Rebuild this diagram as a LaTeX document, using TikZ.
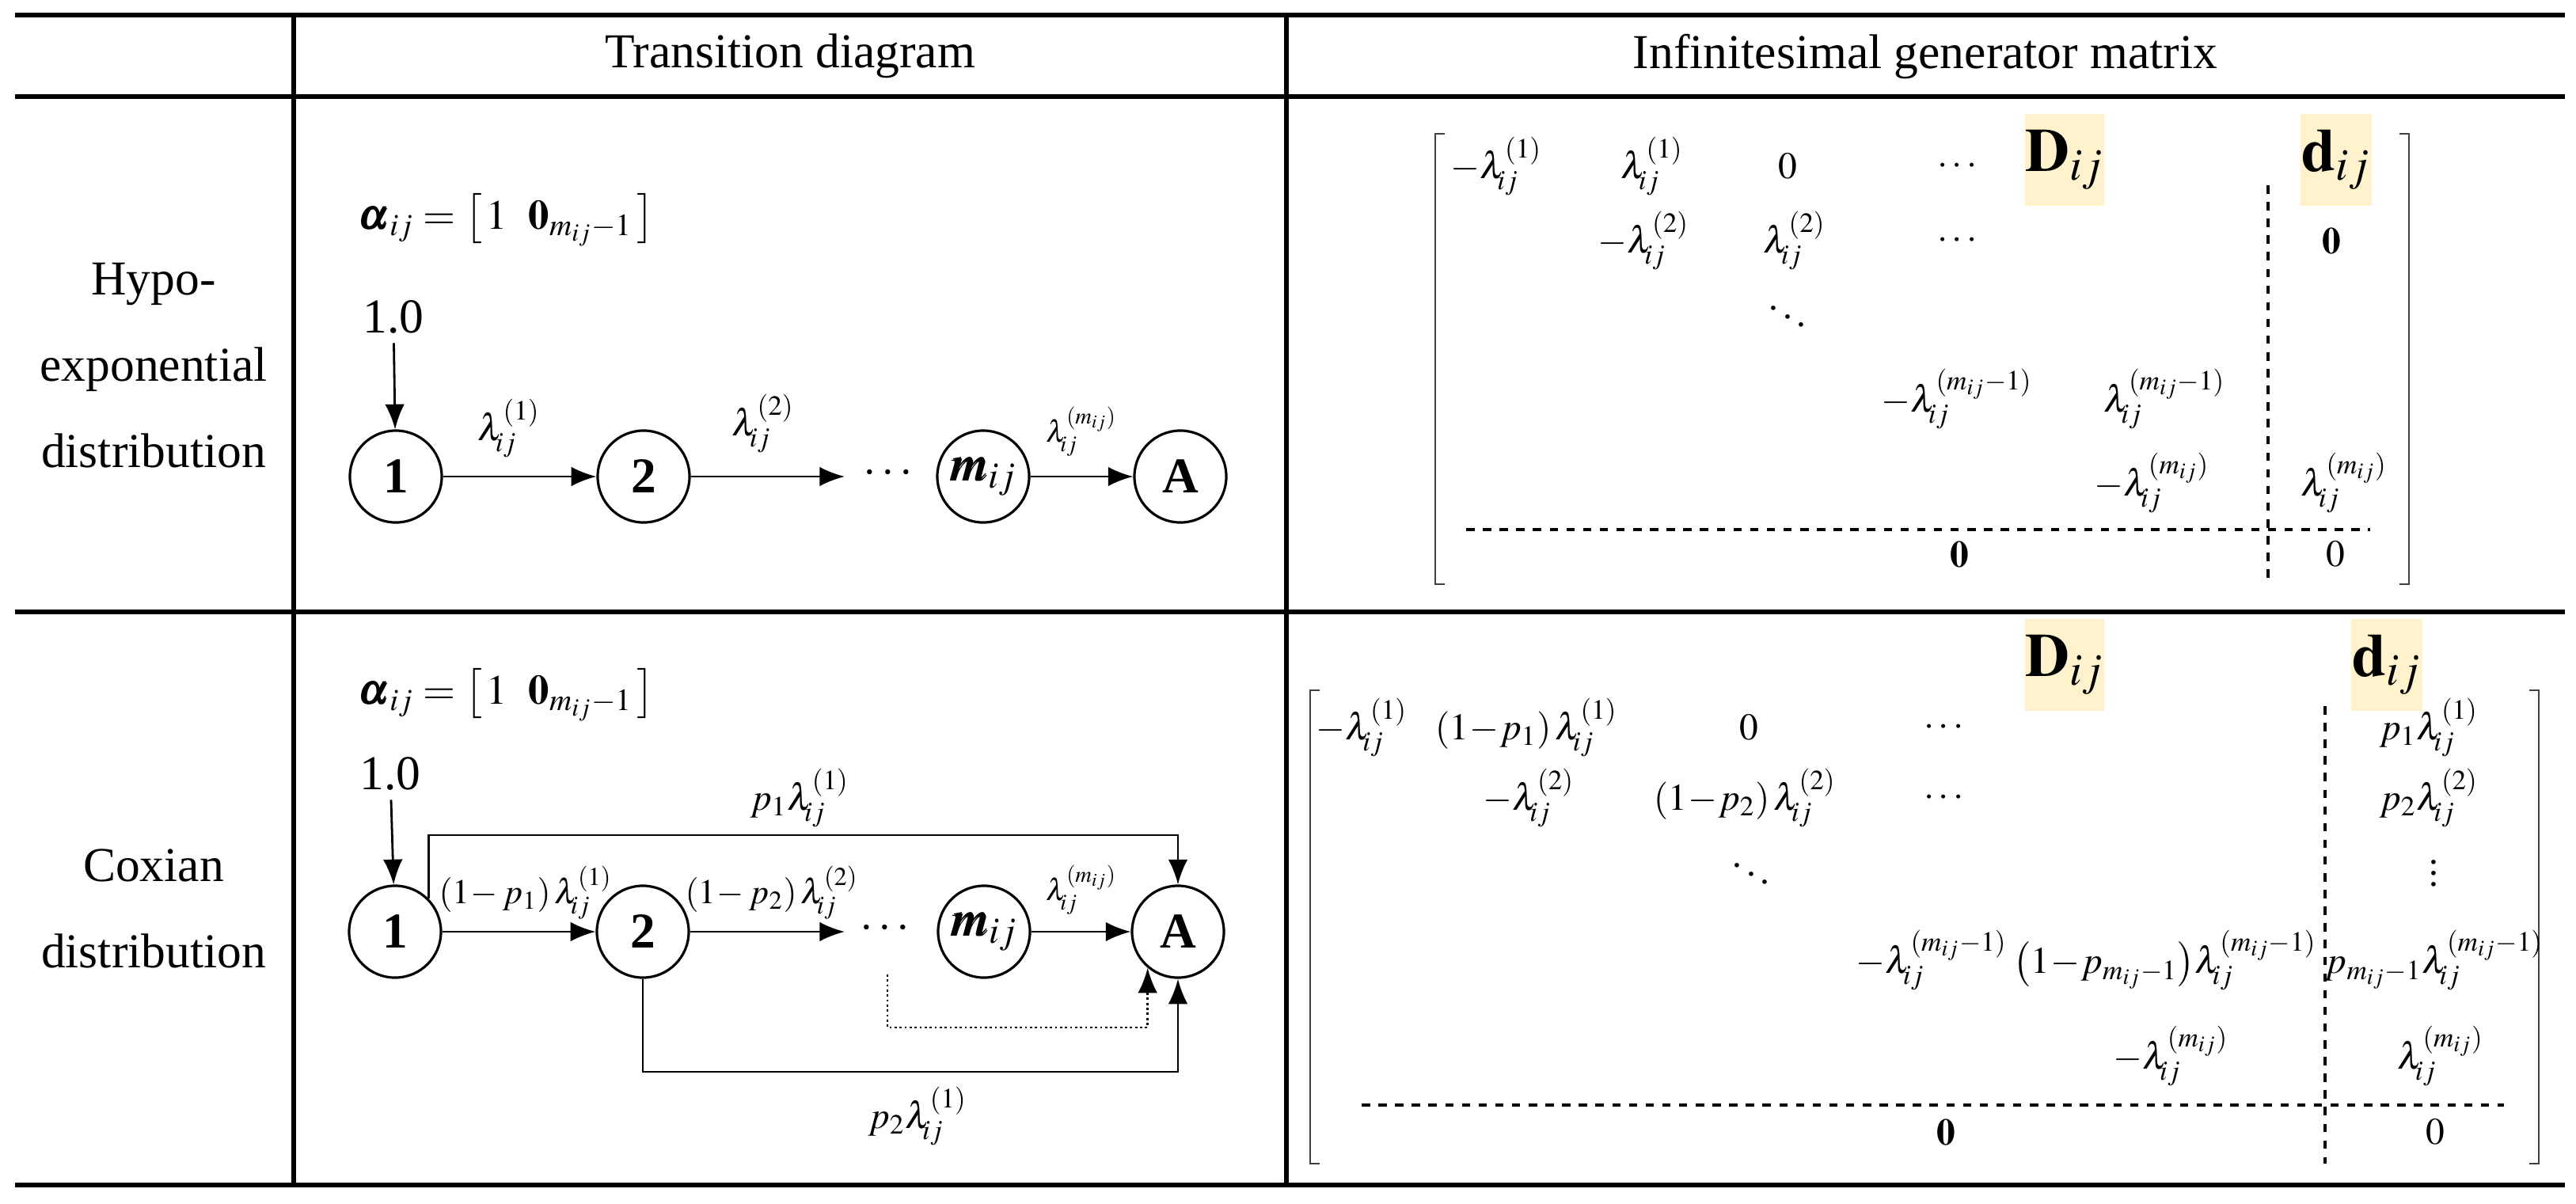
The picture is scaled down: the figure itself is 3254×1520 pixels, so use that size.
\documentclass[tikz,border=0pt]{standalone}
\usepackage{amsmath}
\usepackage{mathptmx}
\usepackage{bm}
\usepackage{fontspec}
\setmainfont{Liberation Serif}
\usetikzlibrary{arrows.meta}
\definecolor{hl}{HTML}{FFF2CC}
\newcommand{\lm}[1]{\lambda_{\!ij}^{#1}}
\tikzset{
 tbl/.style={line width=1.7pt},
 st/.style={draw,circle,line width=0.9pt,minimum size=1.16cm,inner sep=0pt,font=\fontsize{18}{20}\selectfont\bfseries},
 ar/.style={line width=0.8pt,-{Latex[length=9pt,width=7pt]}},
 lab/.style={font=\fontsize{13.5}{16}\selectfont},
 slab/.style={font=\fontsize{11}{13}\selectfont},
 txt/.style={font=\fontsize{17.5}{21}\selectfont,align=center},
 me/.style={font=\fontsize{13.5}{16}\selectfont,inner sep=0pt},
 hbox/.style={fill=hl,inner sep=0pt,minimum width=1.0cm,minimum height=1.15cm,font=\fontsize{22}{26}\selectfont},
 brk/.style={line width=0.7pt,draw=black!75},
 dsh/.style={line width=0.9pt,dashed}
}
\begin{document}
\begin{tikzpicture}[x=0.01cm,y=-0.01cm]
\useasboundingbox (0,0) rectangle (3254,1520);
% table
\draw[tbl] (19,19) -- (3240,19);
\draw[tbl] (19,122) -- (3240,122);
\draw[tbl] (19,773) -- (3240,773);
\draw[tbl] (19,1497) -- (3240,1497);
\draw[tbl] (371,19) -- (371,1497);
\draw[tbl] (1625,19) -- (1625,1497);
\node[txt] (h1) at (998,71) {Transition diagram};
\node[txt] (h2) at (2432,71) {Infinitesimal generator matrix};
\node[txt] (r1) at (194,462) {Hypo-\\[0.35cm] exponential\\[0.35cm] distribution};
\node[txt] (r2) at (194,1148) {Coxian\\[0.35cm] distribution};

% ---------- top diagram
\node[lab,anchor=west,font=\fontsize{15}{18}\selectfont] (al1) at (440,278) {$\bm{\alpha}_{ij}=\left[\,1\ \ \mathbf{0}_{m_{ij}-1}\,\right]$};
\node[txt] (one1) at (497,400) {1.0};
\node[st] (a1) at (500,602) {1};
\node[st] (a2) at (813,602) {2};
\node[font=\fontsize{17}{20}\selectfont\bfseries] (ad) at (1125,598) {$\cdots$};
\node[st] (am) at (1242,602) {$\bm{m_{ij}}$};
\node[st] (aA) at (1491,602) {A};
\coordinate (ae) at (1067,602);
\draw[ar] (one1) -- (a1);
\draw[ar] (a1) -- (a2);
\draw[ar] (a2) -- (ae);
\draw[ar] (am) -- (aA);
\node[lab] (la1) at (643,541) {$\lm{(1)}$};
\node[lab] (la2) at (964,535) {$\lm{(2)}$};
\node[slab] (la3) at (1366,545) {$\lm{(m_{ij})}$};

% ---------- bottom diagram
\node[lab,anchor=west,font=\fontsize{15}{18}\selectfont] (al2) at (440,878) {$\bm{\alpha}_{ij}=\left[\,1\ \ \mathbf{0}_{m_{ij}-1}\,\right]$};
\node[txt] (one2) at (493,977) {1.0};
\node[st] (b1) at (499,1177) {1};
\node[st] (b2) at (812,1177) {2};
\node[font=\fontsize{17}{20}\selectfont\bfseries] (bd) at (1121,1173) {$\cdots$};
\node[st] (bm) at (1243,1177) {$\bm{m_{ij}}$};
\node[st] (bA) at (1488,1177) {A};
\coordinate (be) at (1067,1177);
\coordinate (bdt) at (1121,1231);
\draw[ar] (one2) -- (b1);
\draw[ar] (b1) -- (b2);
\draw[ar] (b2) -- (be);
\draw[ar] (bm) -- (bA);
\draw[ar] (b1.45) |- (1300,1055) -| (bA.north);
\draw[ar] (b2.south) |- (1300,1354) -| (bA.south);
\draw[ar,densely dotted] (bdt) |- (1300,1298) -| (bA.-130);
\node[lab] (lb0) at (1010,1008) {$p_1\lm{(1)}$};
\node[lab,font=\fontsize{12.5}{15}\selectfont] (lb1) at (664,1128) {$\left(1\!-p_1\right)\lm{(1)}$};
\node[lab,font=\fontsize{12.5}{15}\selectfont] (lb2) at (975,1128) {$\left(1\!-p_2\right)\lm{(2)}$};
\node[slab] (lb3) at (1366,1124) {$\lm{(m_{ij})}$};
\node[lab] (lb4) at (1159,1410) {$p_2\lm{(1)}$};

% ---------- top matrix
\draw[brk] (1825,169) -- (1813,169) -- (1813,738) -- (1825,738);
\draw[brk] (3031,169) -- (3043,169) -- (3043,738) -- (3031,738);
\node[hbox] (D1) at (2608,202) {$\mathbf{D}_{ij}$};
\node[hbox,minimum width=0.9cm] (d1) at (2951,202) {$\mathbf{d}_{ij}$};
\node[me] at (1890,210) {$-\lm{(1)}$};
\node[me] at (2087,210) {$\lm{(1)}$};
\node[me] at (2258,210) {$0$};
\node[me] at (2475,210) {$\cdots$};
\node[me] at (2076,304) {$-\lm{(2)}$};
\node[me] at (2267,304) {$\lm{(2)}$};
\node[me] at (2475,304) {$\cdots$};
\node[me] at (2945,304) {$\mathbf{0}$};
\node[me] at (2258,389) {$\ddots$};
\node[me] at (2472,504) {$-\lm{(m_{ij}-1)}$};
\node[me] at (2734,504) {$\lm{(m_{ij}-1)}$};
\node[me] at (2718,610) {$-\lm{(m_{ij})}$};
\node[me] at (2961,610) {$\lm{(m_{ij})}$};
\node[me] at (2475,700) {$\mathbf{0}$};
\node[me] at (2950,700) {$0$};
\draw[dsh] (1852,669) -- (2994,669);
\draw[dsh] (2865,234) -- (2865,736);

% ---------- bottom matrix
\draw[brk] (1667,872) -- (1655,872) -- (1655,1470) -- (1667,1470);
\draw[brk] (3195,872) -- (3207,872) -- (3207,1470) -- (3195,1470);
\node[hbox] (D2) at (2608,840) {$\mathbf{D}_{ij}$};
\node[hbox,minimum width=0.9cm] (d2) at (3015,840) {$\mathbf{d}_{ij}$};
\node[me] at (1720,919) {$-\lm{(1)}$};
\node[me] at (1928,919) {$\left(1\!-\!p_1\right)\lm{(1)}$};
\node[me] at (2209,919) {$0$};
\node[me] at (2458,919) {$\cdots$};
\node[me] at (3068,919) {$p_1\lm{(1)}$};
\node[me] at (1931,1008) {$-\lm{(2)}$};
\node[me] at (2204,1008) {$\left(1\!-\!p_2\right)\lm{(2)}$};
\node[me] at (2458,1008) {$\cdots$};
\node[me] at (3068,1008) {$p_2\lm{(2)}$};
\node[me] at (2212,1093) {$\ddots$};
\node[me] at (3074,1093) {$\vdots$};
\node[me] at (2440,1213) {$-\lm{(m_{ij}-1)}$};
\node[me] at (2735,1213) {$\left(1\!-\!p_{m_{ij}-1}\right)\!\lm{(m_{ij}-1)}$};
\node[me] at (3075,1213) {$p_{m_{ij}-1}\lm{(m_{ij}-1)}$};
\node[me] at (2742,1334) {$-\lm{(m_{ij})}$};
\node[me] at (3083,1334) {$\lm{(m_{ij})}$};
\node[me] at (2458,1430) {$\mathbf{0}$};
\node[me] at (3076,1430) {$0$};
\draw[dsh] (1720,1396) -- (3163,1396);
\draw[dsh] (2937,892) -- (2937,1470);
\end{tikzpicture}
\end{document}
